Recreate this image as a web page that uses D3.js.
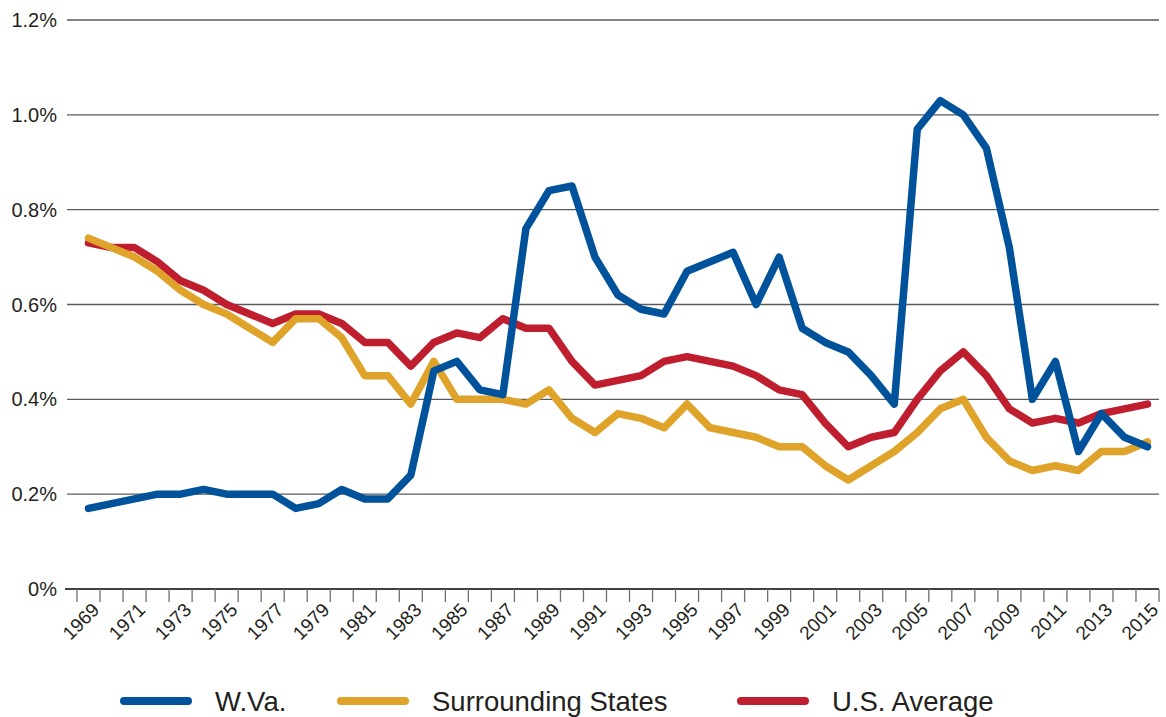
<!DOCTYPE html>
<html>
<head>
<meta charset="utf-8">
<script src="https://cdn.jsdelivr.net/npm/d3@7"></script>
<style>
  body { margin: 0; background: #fff; }
  svg text { font-family: "Liberation Sans", Arial, sans-serif; fill: #231f20; }
</style>
</head>
<body>
<svg id="chart" width="1166" height="717"></svg>
<script>
const years = d3.range(1969, 2016)

// values in percent
const wva = [0.17, 0.18, 0.19, 0.20, 0.20, 0.21, 0.20, 0.20, 0.20, 0.17,
  0.18, 0.21, 0.19, 0.19, 0.24, 0.46, 0.48, 0.42, 0.41, 0.76,
  0.84, 0.85, 0.70, 0.62, 0.59, 0.58, 0.67, 0.69, 0.71, 0.60,
  0.70, 0.55, 0.52, 0.50, 0.45, 0.39, 0.97, 1.03, 1.00, 0.93,
  0.72, 0.40, 0.48, 0.29, 0.37, 0.32, 0.30]

const surrounding = [0.74, 0.72, 0.70, 0.67, 0.63, 0.60, 0.58, 0.55, 0.52, 0.57,
  0.57, 0.53, 0.45, 0.45, 0.39, 0.48, 0.40, 0.40, 0.40, 0.39,
  0.42, 0.36, 0.33, 0.37, 0.36, 0.34, 0.39, 0.34, 0.33, 0.32,
  0.30, 0.30, 0.26, 0.23, 0.26, 0.29, 0.33, 0.38, 0.40, 0.32,
  0.27, 0.25, 0.26, 0.25, 0.29, 0.29, 0.31]

const usAverage = [0.73, 0.72, 0.72, 0.69, 0.65, 0.63, 0.60, 0.58, 0.56, 0.58,
  0.58, 0.56, 0.52, 0.52, 0.47, 0.52, 0.54, 0.53, 0.57, 0.55,
  0.55, 0.48, 0.43, 0.44, 0.45, 0.48, 0.49, 0.48, 0.47, 0.45,
  0.42, 0.41, 0.35, 0.30, 0.32, 0.33, 0.40, 0.46, 0.50, 0.45,
  0.38, 0.35, 0.36, 0.35, 0.37, 0.38, 0.39]

const yTicks = [0, 0.2, 0.4, 0.6, 0.8, 1.0, 1.2]
const seriesNames = ['W.Va.', 'Surrounding States', 'U.S. Average']
const colours = ['#00529b', '#e0a32a', '#be1e2d']

const svg = d3.select('#chart')

const margin = { top: 20, right: 7, bottom: 128, left: 77 }
const width = 1166 - margin.left - margin.right
const height = 717 - margin.top - margin.bottom

const xScale = d3.scaleBand()
  .domain(years)
  .range([margin.left, margin.left + width])

const yScale = d3.scaleLinear()
  .domain([0, 1.2])
  .range([margin.top + height, margin.top])

// gridlines
svg.append('g')
  .selectAll('line')
  .data(yTicks.filter(d => d > 0))
  .enter()
  .append('line')
  .attr('x1', 67)
  .attr('x2', margin.left + width)
  .attr('y1', d => yScale(d))
  .attr('y2', d => yScale(d))
  .attr('stroke', '#58595b')
  .attr('stroke-width', 1.3)

// y labels
svg.append('g')
  .selectAll('text')
  .data(yTicks)
  .enter()
  .append('text')
  .attr('x', 57)
  .attr('y', d => yScale(d) + 7)
  .attr('text-anchor', 'end')
  .style('font-size', '20px')
  .text(d => d === 0 ? '0%' : d.toFixed(1) + '%')

// x axis with ticks on the band edges
const xAxisG = svg.append('g')
xAxisG.append('line')
  .attr('x1', 65)
  .attr('x2', margin.left + width)
  .attr('y1', yScale(0))
  .attr('y2', yScale(0))
  .attr('stroke', '#414042')
  .attr('stroke-width', 2)

const edges = years.map(y => xScale(y)).concat([xScale(2015) + xScale.bandwidth()])
xAxisG.selectAll('line.tick')
  .data(edges)
  .enter()
  .append('line')
  .attr('class', 'tick')
  .attr('x1', d => d)
  .attr('x2', d => d)
  .attr('y1', yScale(0))
  .attr('y2', yScale(0) + 13)
  .attr('stroke', '#6d6e71')
  .attr('stroke-width', 1.3)

xAxisG.selectAll('text')
  .data(years.filter(y => (y - 1969) % 2 === 0))
  .enter()
  .append('text')
  .attr('transform', d => `translate(${xScale(d) + xScale.bandwidth() / 2 + 12}, ${yScale(0) + 22}) rotate(-45)`)
  .attr('text-anchor', 'end')
  .style('font-size', '19px')
  .text(d => d)

// lines
const line = d3.line()
  .x((d, i) => xScale(years[i]) + xScale.bandwidth() / 2)
  .y(d => yScale(d))

const seriesData = [wva, surrounding, usAverage]
const drawOrder = [2, 1, 0]

svg.append('g')
  .selectAll('path')
  .data(drawOrder)
  .enter()
  .append('path')
  .attr('d', k => line(seriesData[k]))
  .attr('fill', 'none')
  .attr('stroke', k => colours[k])
  .attr('stroke-width', 7.5)
  .attr('stroke-linecap', 'round')
  .attr('stroke-linejoin', 'round')

// legend
const legendX = [120, 337, 737]
const legend = svg.append('g')
  .selectAll('g')
  .data(seriesNames)
  .enter()
  .append('g')
  .attr('transform', (d, i) => `translate(${legendX[i]}, 701)`)

legend.append('line')
  .attr('x1', 4)
  .attr('x2', 68)
  .attr('stroke', (d, i) => colours[i])
  .attr('stroke-width', 8)
  .attr('stroke-linecap', 'round')

legend.append('text')
  .attr('x', 95)
  .attr('y', 10)
  .style('font-size', '27.5px')
  .text(d => d)
</script>
</body>
</html>
